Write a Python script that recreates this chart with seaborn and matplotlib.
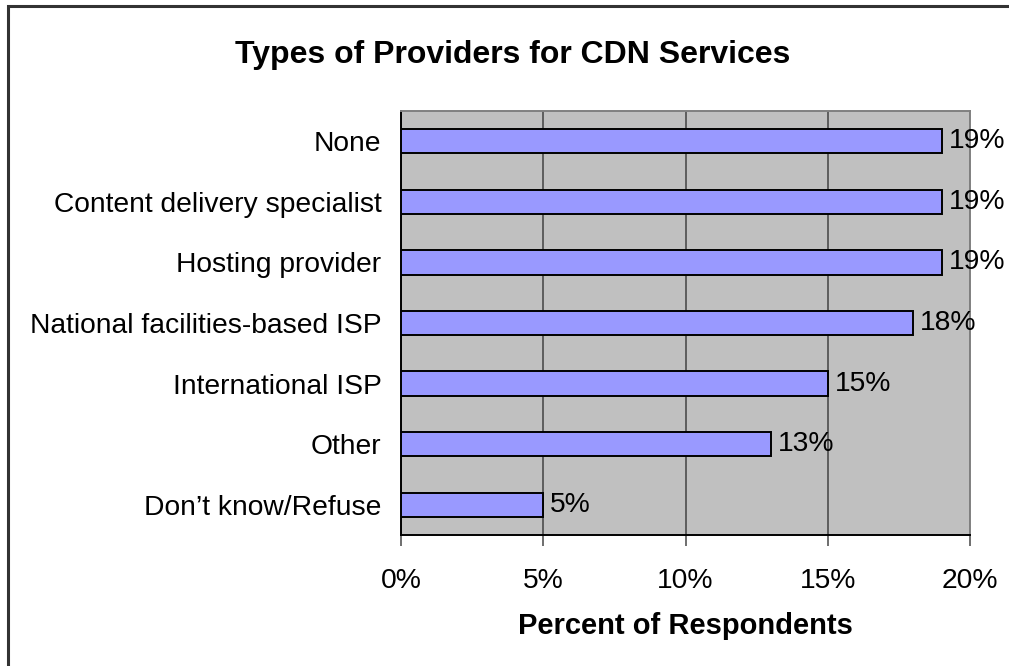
import matplotlib
matplotlib.use("Agg")
import matplotlib.pyplot as plt
import seaborn as sns
import pandas as pd
from matplotlib.patches import Rectangle
from matplotlib.ticker import FixedLocator, FuncFormatter

categories = [
    "None",
    "Content delivery specialist",
    "Hosting provider",
    "National facilities-based ISP",
    "International ISP",
    "Other",
    "Don\u2019t know/Refuse",
]
percent = [19, 19, 19, 18, 15, 13, 5]
x_ticks = [0, 5, 10, 15, 20]

sns.set_theme(style="white")
plt.rcParams["font.family"] = ["Liberation Sans", "DejaVu Sans"]

W, H = 1009, 666
fig = plt.figure(figsize=(W / 100, H / 100), dpi=100)

# outer chart frame (runs off the right and bottom edges)
fig.patches.append(Rectangle((8 / W, -0.05), 1.2, (H - 6) / H + 0.05,
                             transform=fig.transFigure, fill=False,
                             edgecolor="#333333", linewidth=2.2, zorder=0))

left, right, top, bottom = 401, 970, 111, 535
ax = fig.add_axes([left / W, 1 - bottom / H, (right - left) / W, (bottom - top) / H])
ax.set_facecolor("#C0C0C0")

df = pd.DataFrame({"cat": categories, "pct": percent})
sns.barplot(data=df, x="pct", y="cat", orient="h", color="#9999FF",
            saturation=1, width=0.4, edgecolor="black", linewidth=1.4,
            ax=ax, zorder=3)

ax.set_xlim(0, 20)
ax.set_ylim(len(categories) - 0.5, -0.5)
ax.xaxis.set_major_locator(FixedLocator(x_ticks))
ax.xaxis.set_major_formatter(FuncFormatter(lambda v, p: f"{v:.0f}%"))
ax.grid(axis="x", color="#555555", linewidth=1.3, zorder=1)
ax.grid(axis="y", visible=False)
ax.set_axisbelow(True)

LABEL_SIZE = 20.3

# category boundaries carry the tick marks; labels sit at the bar centres
ax.set_yticks([i for i in range(len(categories))])
ax.set_yticklabels(categories, fontsize=LABEL_SIZE, color="black")
ax.tick_params(axis="y", which="major", length=0, pad=14)
ax.set_yticks([i - 0.5 for i in range(len(categories) + 1)], minor=True)
ax.tick_params(axis="y", which="minor", length=8, width=1.2, color="#222222", direction="out")
ax.tick_params(axis="x", length=8, width=1.2, color="#555555", direction="out",
               labelsize=LABEL_SIZE, labelcolor="black", pad=16)
ax.tick_params(left=True, bottom=True)

for side in ("top", "right"):
    ax.spines[side].set_color("#808080")
    ax.spines[side].set_linewidth(1.4)
for side in ("left", "bottom"):
    ax.spines[side].set_color("black")
    ax.spines[side].set_linewidth(1.4)

for i, v in enumerate(percent):
    ax.annotate(f"{v}%", xy=(v, i), xytext=(5, 0), textcoords="offset points",
                va="center", ha="left", fontsize=LABEL_SIZE, color="black",
                annotation_clip=False)

ax.set_xlabel("Percent of Respondents", fontsize=21, fontweight="bold",
              labelpad=13, color="black")
ax.set_ylabel("")

fig.text(513 / W, 1 - 55 / H, "Types of Providers for CDN Services",
         ha="center", va="center", fontsize=23, fontweight="bold", color="black")

fig.savefig("out.png", dpi=100)
